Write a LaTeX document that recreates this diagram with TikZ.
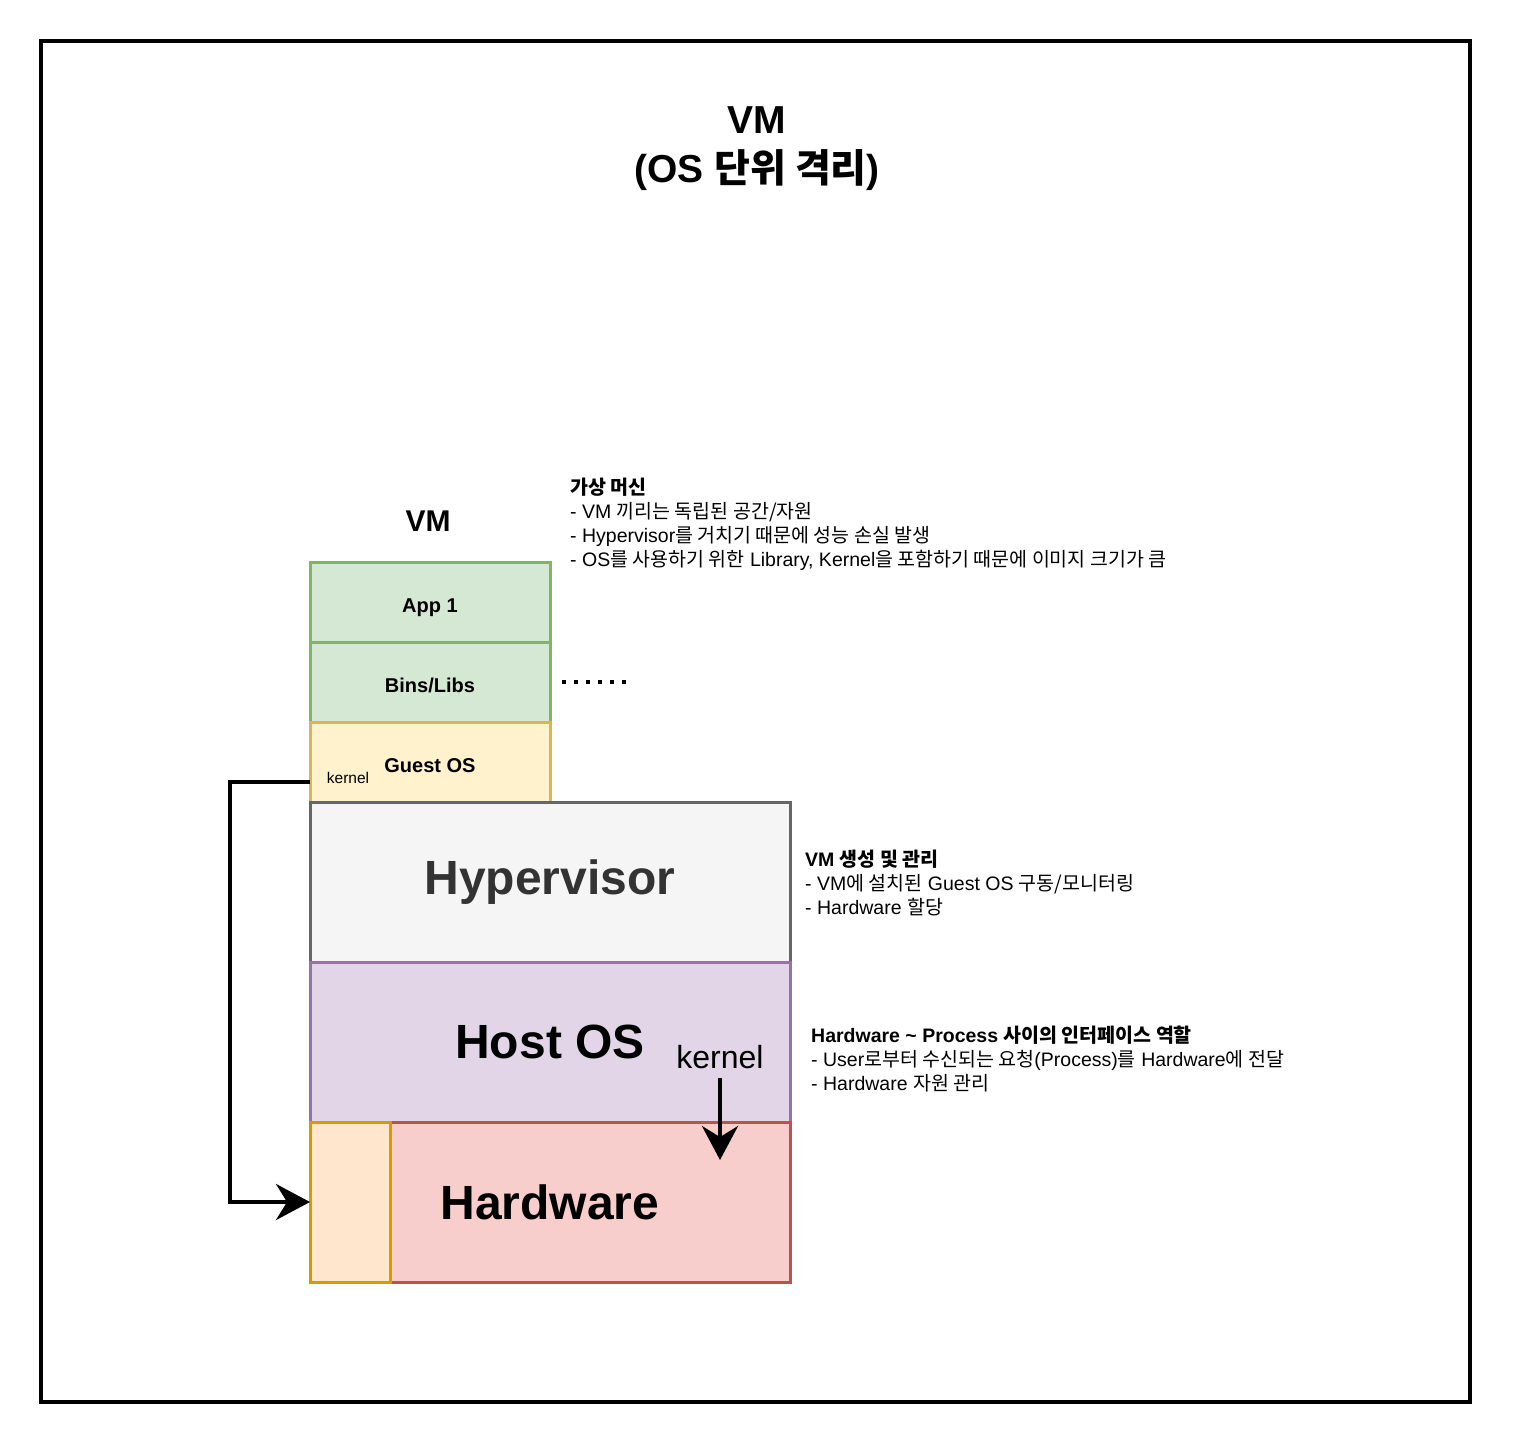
\documentclass[tikz,border=0pt]{standalone}
\usepackage{fontspec}
\setmainfont{Liberation Sans}
\newfontfamily\krfont{Noto Sans CJK KR}
\newcommand\ko[1]{{\krfont #1}}
\usetikzlibrary{positioning,arrows.meta}
\definecolor{appfill}{HTML}{D5E8D4}
\definecolor{appline}{HTML}{82B366}
\definecolor{osfill}{HTML}{FFF2CC}
\definecolor{osline}{HTML}{D6B656}
\definecolor{hvfill}{HTML}{F5F5F5}
\definecolor{hvline}{HTML}{666666}
\definecolor{hvtext}{HTML}{333333}
\definecolor{hostfill}{HTML}{E1D5E7}
\definecolor{hostline}{HTML}{9673A6}
\definecolor{hwfill}{HTML}{F8CECC}
\definecolor{hwline}{HTML}{B85450}
\definecolor{sidefill}{HTML}{FFE6CC}
\definecolor{sideline}{HTML}{D79B00}
\tikzset{
  layer/.style={draw,line width=3pt,outer sep=0pt,inner sep=0pt,align=center},
  vmbox/.style={layer,minimum width=240pt,minimum height=80pt,text height=20pt,text depth=0pt,
                font=\bfseries\fontsize{20}{24}\selectfont},
  appbox/.style={vmbox,fill=appfill,draw=appline},
  guestbox/.style={vmbox,fill=osfill,draw=osline},
  bigbox/.style={layer,minimum width=480pt,minimum height=160pt,
                 font=\bfseries\fontsize{48}{56}\selectfont},
  note/.style={align=left,inner sep=0pt,font=\fontsize{19.5}{24}\selectfont},
  flow/.style={-{Stealth[length=34pt,width=36pt]},line width=4pt}
}

\begin{document}
\begin{tikzpicture}[x=1pt,y=-1pt]
  \useasboundingbox (0,0) rectangle (1516,1444);
  \draw[line width=3.5pt] (41,41) rectangle (1470,1402);
  \node[font=\bfseries\fontsize{39}{49}\selectfont,align=center] (title) at (757,149) {VM\\(OS \ko{단위 격리})};

  % VM stack
  \node[font=\bfseries\fontsize{30}{36}\selectfont] (vmlabel) at (428,521) {VM};
  \node[appbox] (app) at (430,602) {App 1};
  \node[appbox,below=0pt of app] (bins) {Bins/Libs};
  \node[guestbox,below=0pt of bins] (guest) {Guest OS};
  \node[font=\fontsize{15.5}{18}\selectfont] (gkern) at (348,778) {kernel};

  % host layers
  \node[bigbox,fill=hvfill,draw=hvline,text=hvtext,anchor=north west] (hyper) at (guest.south west) {Hypervisor};
  \node[bigbox,fill=hostfill,draw=hostline,anchor=north west] (host) at (hyper.south west) {Host OS};
  \node[bigbox,fill=hwfill,draw=hwline,anchor=north west] (hw) at (host.south west) {Hardware};
  \node[layer,fill=sidefill,draw=sideline,minimum width=80pt,minimum height=160pt,anchor=north west] (hwside) at (hw.north west) {};
  \node[font=\fontsize{32}{38}\selectfont] (hkern) at (720,1057) {kernel};
  \coordinate (hkend) at (720,1160);

  % more VMs
  \coordinate (dotsA) at (562,682);
  \coordinate (dotsB) at (628,682);
  \draw[line width=4pt,dash pattern=on 4pt off 8pt] (dotsA) -- (dotsB);

  % notes
  \node[note,anchor=north west] (vmnote) at (570,478) {\textbf{\ko{가상 머신}}\\- VM \ko{끼리는 독립된 공간/자원}\\- Hypervisor\ko{를 거치기 때문에 성능 손실 발생}\\- OS\ko{를 사용하기 위한} Library, Kernel\ko{을 포함하기 때문에 이미지 크기가 큼}};
  \node[note,anchor=north west] (hvnote) at (805,850) {\textbf{VM \ko{생성 및 관리}}\\- VM\ko{에 설치된} Guest OS \ko{구동/모니터링}\\- Hardware \ko{할당}};
  \node[note,anchor=north west] (hostnote) at (811,1026) {\textbf{Hardware \textasciitilde{} Process \ko{사이의 인터페이스 역할}}\\- User\ko{로부터 수신되는 요청}(Process)\ko{를} Hardware\ko{에 전달}\\- Hardware \ko{자원 관리}};

  % kernel paths
  \draw[flow] ([yshift=-20pt]guest.west) -- ++(-80,0) |- (hwside.west);
  \draw[flow,shorten <=6pt] (hkern.south) -- (hkend);
\end{tikzpicture}
\end{document}
